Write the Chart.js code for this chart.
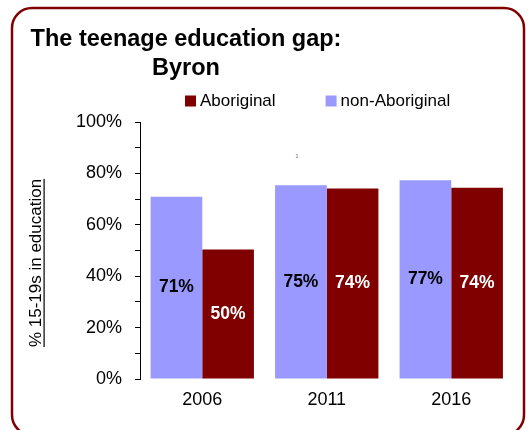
<!DOCTYPE html>
<html>
<head>
<meta charset="utf-8">
<script src="https://cdn.jsdelivr.net/npm/chart.js@4.4.1/dist/chart.umd.min.js"></script>
<style>
  html, body { margin: 0; padding: 0; background: #fff; }
  canvas { display: block; }
</style>
</head>
<body>
<canvas id="chart" width="531" height="430"></canvas>
<script>
// values
const years = ['2006', '2011', '2016'];
const nonAboriginal = [70.9, 75.4, 77.3];
const aboriginal = [50.4, 74.1, 74.4];
const yTicks = [0, 20, 40, 60, 80, 100];
const titleLines = ['The teenage education gap:', 'Byron'];
const yTitle = '% 15-19s in education';

const FONT = '"Liberation Sans", Arial, Helvetica, sans-serif';
const RED = '#800000';
const LAVENDER = '#9999ff';

// rounded dark red frame round the whole chart
const framePlugin = {
  id: 'frame',
  beforeDraw(chart) {
    const ctx = chart.ctx;
    ctx.save();
    ctx.fillStyle = '#fff';
    ctx.fillRect(0, 0, chart.width, chart.height);
    ctx.beginPath();
    ctx.roundRect(12, 8, 512, 427, 20);
    ctx.lineWidth = 2.5;
    ctx.strokeStyle = RED;
    ctx.stroke();
    ctx.restore();
  }
};

// percentage labels in the middle of each bar
const barLabels = {
  id: 'barLabels',
  afterDatasetsDraw(chart) {
    const ctx = chart.ctx;
    ctx.save();
    ctx.font = 'bold 17.5px ' + FONT;
    ctx.textAlign = 'center';
    ctx.textBaseline = 'middle';
    chart.data.datasets.forEach((ds, i) => {
      chart.getDatasetMeta(i).data.forEach((bar, j) => {
        ctx.fillStyle = ds.labelColor;
        ctx.fillText(Math.round(ds.data[j]) + '%', bar.x, (bar.y + bar.base) / 2);
      });
    });
    ctx.restore();
  }
};

// title, legend (Aboriginal listed first) and underlined axis title
const decor = {
  id: 'decor',
  afterDraw(chart) {
    const ctx = chart.ctx;
    ctx.save();
    ctx.fillStyle = '#000';
    ctx.textBaseline = 'middle';

    ctx.font = 'bold 23.5px ' + FONT;
    ctx.textAlign = 'center';
    titleLines.forEach((t, i) => ctx.fillText(t, 186, 40 + i * 29));

    ctx.font = '17px ' + FONT;
    ctx.textAlign = 'left';
    let x = 185;
    chart.data.datasets.slice().reverse().forEach(ds => {
      ctx.fillStyle = ds.backgroundColor;
      ctx.fillRect(x, 95.5, 11, 11);
      ctx.fillStyle = '#000';
      ctx.fillText(ds.label, x + 15, 101);
      x += 15 + ctx.measureText(ds.label).width + 50;
    });

    ctx.translate(35, 263);
    ctx.rotate(-Math.PI / 2);
    ctx.font = '17px ' + FONT;
    ctx.textAlign = 'center';
    ctx.textBaseline = 'alphabetic';
    ctx.fillText(yTitle, 0, 6);
    const w = ctx.measureText(yTitle).width;
    ctx.fillRect(-w / 2, 8.5, w, 1.2);
    ctx.restore();

    ctx.save();
    ctx.font = '6px ' + FONT;
    ctx.fillStyle = '#777';
    ctx.textAlign = 'center';
    ctx.fillText('1', 297, 158);
    ctx.restore();
  }
};

new Chart(document.getElementById('chart'), {
  type: 'bar',
  data: {
    labels: years,
    datasets: [
      { label: 'non-Aboriginal', data: nonAboriginal, backgroundColor: LAVENDER, labelColor: '#000' },
      { label: 'Aboriginal', data: aboriginal, backgroundColor: RED, labelColor: '#fff' }
    ]
  },
  options: {
    responsive: false,
    animation: false,
    layout: { padding: { top: 122, left: 60, right: 17.5, bottom: 19 } },
    datasets: { bar: { categoryPercentage: 0.83, barPercentage: 1, borderWidth: 0 } },
    plugins: {
      legend: { display: false },
      title: { display: false },
      tooltip: { enabled: false }
    },
    scales: {
      x: {
        grid: { display: false, drawTicks: false },
        border: { display: false },
        ticks: { color: '#000', font: { family: FONT, size: 18 }, padding: 10 },
        afterFit(scale) { scale.height = 32; }
      },
      y: {
        min: 0,
        max: 100,
        grid: { drawOnChartArea: false, color: '#000', tickLength: 5 },
        border: { display: true, color: '#000', width: 1 },
        ticks: {
          stepSize: 10,
          autoSkip: false,
          color: '#000',
          padding: 13,
          font: { family: FONT, size: 18 },
          callback: v => yTicks.includes(v) ? v + '%' : ''
        },
        afterFit(scale) { scale.width = 80; }
      }
    }
  },
  plugins: [framePlugin, barLabels, decor]
});
</script>
</body>
</html>
